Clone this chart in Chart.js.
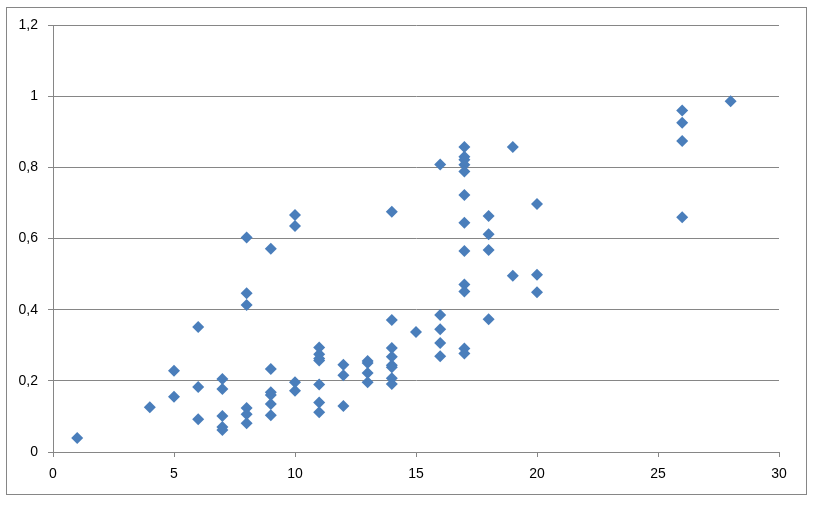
<!DOCTYPE html>
<html>
<head>
<meta charset="utf-8">
<script src="https://cdn.jsdelivr.net/npm/chart.js@4/dist/chart.umd.min.js"></script>
<style>
  html, body { margin: 0; padding: 0; background: #fff; }
  canvas { display: block; }
</style>
</head>
<body>
<canvas id="myChart" width="816" height="506"></canvas>
<script>
// values, one x and one y per marker
const xValues = [
  1, 4, 5, 5, 6, 6, 6,
  7, 7, 7, 7, 7,
  8, 8, 8, 8, 8, 8,
  9, 9, 9, 9, 9, 9,
  10, 10, 10, 10,
  11, 11, 11, 11, 11, 11, 11,
  12, 12, 12,
  13, 13, 13, 13,
  14, 14, 14, 14, 14, 14, 14, 14,
  15,
  16, 16, 16, 16, 16,
  17, 17, 17, 17, 17, 17, 17, 17, 17, 17, 17, 17,
  18, 18, 18, 18,
  19, 19,
  20, 20, 20,
  26, 26, 26, 26,
  28
];
const yValues = [
  0.039, 0.126, 0.228, 0.155, 0.351, 0.183, 0.092,
  0.205, 0.177, 0.101, 0.070, 0.062,
  0.603, 0.446, 0.413, 0.124, 0.106, 0.081,
  0.571, 0.233, 0.168, 0.160, 0.135, 0.103,
  0.666, 0.635, 0.196, 0.172,
  0.294, 0.275, 0.263, 0.257, 0.190, 0.139, 0.112,
  0.245, 0.216, 0.129,
  0.256, 0.250, 0.222, 0.196,
  0.675, 0.371, 0.292, 0.268, 0.244, 0.238, 0.207, 0.191,
  0.337,
  0.808, 0.385, 0.345, 0.306, 0.269,
  0.857, 0.830, 0.821, 0.807, 0.788, 0.722, 0.644, 0.565, 0.471, 0.451, 0.291, 0.277,
  0.663, 0.612, 0.568, 0.373,
  0.857, 0.495,
  0.697, 0.498, 0.449,
  0.960, 0.925, 0.874, 0.660,
  0.986
];
const xTicks = [0, 5, 10, 15, 20, 25, 30];
const yTicks = [0, 0.2, 0.4, 0.6, 0.8, 1, 1.2];

const points = xValues.map((x, i) => ({ x: x, y: yValues[i] }));

const gray = "#868686";
const font = { family: "Liberation Sans", size: 14 };

// thin frame round the whole chart, like the Excel chart area
const frame = {
  id: "frame",
  beforeDraw(chart) {
    const c = chart.ctx;
    c.save();
    c.fillStyle = "#fff";
    c.fillRect(0, 0, chart.width, chart.height);
    c.strokeStyle = gray;
    c.lineWidth = 1;
    c.strokeRect(6.5, 7.5, 800, 487);
    c.restore();
  },
};

let ctx = document.getElementById("myChart").getContext("2d");
let myChart = new Chart(ctx, {
  type: "scatter",
  data: {
    datasets: [
      {
        label: "data",
        data: points,
        pointStyle: "rectRot",
        pointRadius: 6,
        backgroundColor: "#4a7ebb",
        borderColor: "#4a7ebb",
        borderWidth: 0,
      },
    ],
  },
  options: {
    responsive: false,
    animation: false,
    layout: { padding: { left: 0, right: 37, top: 25, bottom: 0 } },
    plugins: {
      legend: { display: false },
      tooltip: { enabled: false },
    },
    scales: {
      x: {
        type: "linear",
        min: 0,
        max: 30,
        afterBuildTicks: (s) => { s.ticks = xTicks.map((v) => ({ value: v })); },
        afterFit: (s) => { s.height = 54; },
        ticks: { color: "#000", font: font, padding: 9, maxRotation: 0 },
        grid: { drawOnChartArea: false, color: gray, tickLength: 5 },
        border: { color: gray },
      },
      y: {
        min: 0,
        max: 1.2,
        afterBuildTicks: (s) => { s.ticks = yTicks.map((v) => ({ value: v })); },
        afterFit: (s) => { s.width = 53; },
        ticks: {
          color: "#000",
          font: font,
          padding: 10,
          callback: (v) => String(Math.round(v * 10) / 10).replace(".", ","),
        },
        grid: { color: gray, tickLength: 5 },
        border: { color: gray },
      },
    },
  },
  plugins: [frame],
});
</script>
</body>
</html>
